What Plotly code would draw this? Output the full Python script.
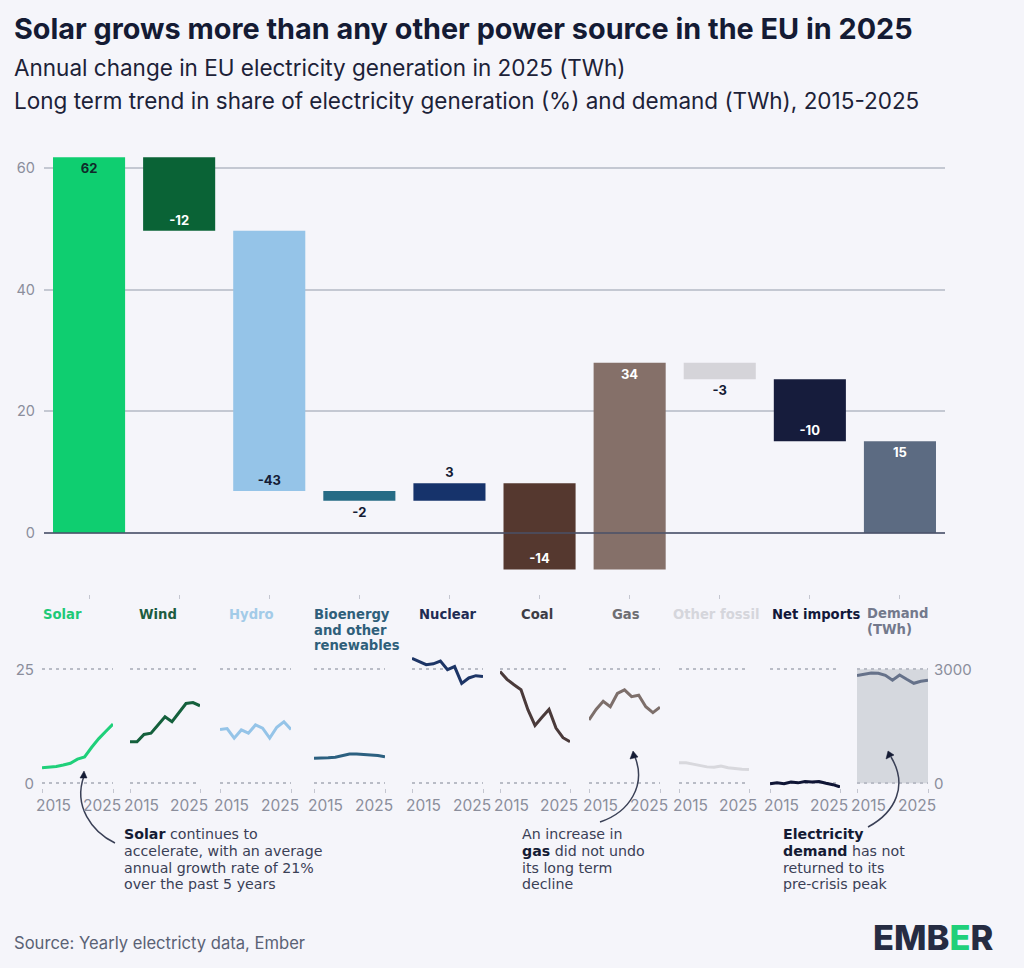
import plotly.graph_objects as go

FW, FH = 1024, 968
FONT = "Inter"
BLOCK_FONT = "DejaVu Sans"
BG = "#f5f5fa"
INK = "#141b34"
TICK = "#8b8e9c"

sources = ["Solar", "Wind", "Hydro", "Bioenergy and other renewables", "Nuclear",
           "Coal", "Gas", "Other fossil", "Net imports", "Demand (TWh)"]
changes = [61.8, -12.1, -42.8, -1.6, 2.9, -14.2, 34.0, -2.7, -10.2, 15.1]
change_labels = ["62", "-12", "-43", "-2", "3", "-14", "34", "-3", "-10", "15"]
label_pos = ["inside", "inside", "inside", "outside", "outside",
             "inside", "inside", "outside", "inside", "inside"]
label_colors = ["#0f2a2a", "#ffffff", "#141b34", "#141b34", "#141b34",
                "#ffffff", "#ffffff", "#141b34", "#ffffff", "#ffffff"]
bar_colors = ["#0fce70", "#0a6336", "#95c4e8", "#266b85", "#16336b",
              "#55382f", "#857069", "#d5d4d9", "#161c3c", "#5c6b82"]
line_colors = ["#1fd07a", "#14603c", "#95c4e8", "#2c6080", "#1d3566",
               "#4a3a3a", "#7d6f6b", "#d8d8dd", "#0f1535", "#66728a"]

years = [2015, 2016, 2017, 2018, 2019, 2020, 2021, 2022, 2023, 2024, 2025]
solar = [3.4, 3.5, 3.7, 4.0, 4.4, 5.3, 5.8, 7.9, 9.8, 11.4, 13.0]
wind = [9.1, 9.1, 10.7, 11.0, 12.8, 14.6, 13.5, 15.4, 17.5, 17.7, 17.0]
hydro = [11.8, 12.0, 9.9, 11.7, 11.0, 12.8, 12.1, 9.9, 12.3, 13.5, 11.8]
bioenergy = [5.5, 5.5, 5.6, 5.7, 6.1, 6.4, 6.4, 6.3, 6.2, 6.1, 5.8]
nuclear = [27.4, 26.7, 26.0, 26.2, 26.8, 24.9, 25.6, 21.9, 23.1, 23.6, 23.4]
coal = [24.5, 22.8, 21.6, 20.5, 16.1, 12.7, 14.5, 16.2, 12.1, 10.0, 9.1]
gas = [13.9, 16.2, 18.0, 16.8, 19.7, 20.5, 19.0, 19.3, 16.8, 15.5, 16.7]
other_fossil = [4.5, 4.5, 4.2, 3.9, 3.6, 3.5, 3.8, 3.4, 3.2, 3.1, 3.0]
net_imports = [-0.1, 0.1, -0.1, 0.3, 0.1, 0.4, 0.3, 0.4, 0.0, -0.3, -0.8]
demand = [2833, 2877, 2904, 2895, 2842, 2711, 2851, 2737, 2632, 2684, 2711]
share_series = [solar, wind, hydro, bioenergy, nuclear, coal, gas, other_fossil, net_imports, demand]

share_ticks = [0, 25]
demand_ticks = [0, 3000]

# pixel position of 2015 and 2025 on each small chart
small_x = [(42, 113), (130, 200), (220, 291), (314, 385), (412, 483),
           (500, 570), (589, 660), (679, 749), (770, 840), (857, 928)]
# header of each small chart: lines, left edge
small_heads = [(["Solar"], 43, "#1ec977"), (["Wind"], 139, "#1d5c40"), (["Hydro"], 229, "#a3cbe8"),
               (["Bioenergy", "and other", "renewables"], 314, "#2f5f7a"), (["Nuclear"], 419, "#1f2c54"),
               (["Coal"], 521, "#3d3d45"), (["Gas"], 612, "#6e6e72"), (["Other fossil"], 673, "#d5d6dc"),
               (["Net imports"], 772, "#12183a"), (["Demand", "(TWh)"], 867, "#73798c")]

strong = "<span style='color:#141b34'><b>{}</b></span>"
notes = [(124, [strong.format("Solar") + " continues to", "accelerate, with an average",
                "annual growth rate of 21%", "over the past 5 years"]),
         (522, ["An increase in", strong.format("gas") + " did not undo", "its long term", "decline"]),
         (783, [strong.format("Electricity"), strong.format("demand") + " has not",
                "returned to its", "pre-crisis peak"])]


def px(x):
    return x / FW


def py(y):
    return 1 - y / FH


def text(s, x, y, size, color=INK, anchor="left", family=FONT, **kw):
    # annotations carry about 2px of padding
    annotations.append(dict(text=s, x=px(x - 2), y=py(y), xref="paper", yref="paper",
                            xanchor=anchor, yanchor="middle", showarrow=False,
                            align=anchor, font=dict(family=family, size=size, color=color)))
    annotations[-1]["font"].update(kw)


def block(lines, x, first_y, step, size, color, **kw):
    # plotly's line height is 1.3 x the annotation font, so the outer size sets
    # the spacing and an inner span sets the glyph size
    body = "<br>".join("<span style='font-size:{}px'>{}</span>".format(size, ln) for ln in lines)
    text(body, x, first_y + step * (len(lines) - 1) / 2, step / 1.3, color, family=BLOCK_FONT, **kw)


def arrow(tail, c1, c2, tip, head):
    shapes.append(dict(type="path", xref="paper", yref="paper", layer="above",
                       line=dict(color="#3a4056", width=1.5),
                       path="M {} {} C {} {} {} {} {} {}".format(
                           px(tail[0]), py(tail[1]), px(c1[0]), py(c1[1]),
                           px(c2[0]), py(c2[1]), px(tip[0]), py(tip[1]))))
    shapes.append(dict(type="path", xref="paper", yref="paper", layer="above",
                       fillcolor="#141b34", line=dict(color="#141b34", width=0.5),
                       path="M {} {} L {} {} L {} {} Z".format(
                           px(head[0][0]), py(head[0][1]), px(head[1][0]), py(head[1][1]),
                           px(head[2][0]), py(head[2][1]))))


annotations = []
shapes = []
fig = go.Figure()

# waterfall bars
bases = []
running = 0
for v in changes[:-1]:
    bases.append(running)
    running += v
bases.append(0)

fig.add_trace(go.Bar(
    x=list(range(len(sources))), y=changes, base=bases, width=0.8,
    marker=dict(color=bar_colors, line_width=0),
    text=change_labels, textposition=label_pos, insidetextanchor="end", textangle=0,
    constraintext="none", cliponaxis=False,
    textfont=dict(family=FONT, size=13, color=label_colors, weight=700),
    showlegend=False, hoverinfo="skip"))

shapes.append(dict(type="line", xref="paper", yref="y", layer="above",
                   x0=px(44), x1=px(945), y0=0, y1=0,
                   line=dict(color="#4a5068", width=1.5)))

layout_axes = dict(
    xaxis=dict(domain=[px(44), px(945)], range=[-0.5, 9.5], tickvals=list(range(10)),
               showticklabels=False, ticks="outside", ticklen=4, tickcolor="#c4c6d0",
               showgrid=False, zeroline=False, showline=False, fixedrange=True),
    yaxis=dict(domain=[py(593.8), py(157)], range=[-10, 61.84], tickvals=[0, 20, 40, 60],
               gridcolor="#c4c8d2", gridwidth=1.5, zeroline=False, showline=False,
               ticks="", ticklabelstandoff=8, fixedrange=True,
               tickfont=dict(family=FONT, size=14.5, color=TICK)),
)

# small multiples
for i, series in enumerate(share_series):
    n = i + 2
    is_demand = i == len(share_series) - 1
    x_left, x_right = small_x[i]
    fig.add_trace(go.Scatter(
        x=years, y=series, mode="lines", xaxis=f"x{n}", yaxis=f"y{n}",
        line=dict(color=line_colors[i], width=3), cliponaxis=False,
        showlegend=False, hoverinfo="skip"))
    layout_axes[f"xaxis{n}"] = dict(
        domain=[px(x_left), px(x_right)], range=[years[0], years[-1]], anchor=f"y{n}",
        tickvals=[years[0], years[-1]], showticklabels=False, ticks="outside", ticklen=4,
        tickcolor="#c4c6d0", showgrid=False, zeroline=False, showline=False, fixedrange=True)
    scale = demand_ticks[1] / share_ticks[1] if is_demand else 1
    layout_axes[f"yaxis{n}"] = dict(
        domain=[py(788), py(655.6)], range=[-1.03 * scale, 28 * scale], anchor=f"x{n}",
        tickvals=demand_ticks if is_demand else share_ticks,
        side="right" if is_demand else "left",
        showticklabels=is_demand or i == 0, ticks="", ticklabelstandoff=5 if is_demand else 7,
        tickfont=dict(family=FONT, size=15, color=TICK),
        showgrid=True, gridcolor="#b9bcc6", gridwidth=1.5, griddash="3px,4px",
        zeroline=False, showline=False, fixedrange=True)
    # year labels sit inwards of their ticks
    for yr, anchor, shift in [(years[0], "left", -8), (years[-1], "right", 10)]:
        annotations.append(dict(text=str(yr), x=yr, y=py(805), xref=f"x{n}", yref="paper",
                                xanchor=anchor, yanchor="middle", xshift=shift, showarrow=False,
                                font=dict(family=FONT, size=15.5, color=TICK)))
    lines, head_x, head_color = small_heads[i]
    block(lines, head_x, 614, 15.5, 13.2, head_color, weight=700)

shapes.append(dict(type="rect", xref="x11", yref="y11", layer="below",
                   x0=years[0], x1=years[-1], y0=demand_ticks[0], y1=demand_ticks[1],
                   fillcolor="#d5d8de", line_width=0))

# header, notes, footer
text("Solar grows more than any other power source in the EU in 2025", 14, 28, 28.8, INK, weight=700)
text("Annual change in EU electricity generation in 2025 (TWh)", 14, 67, 22.5, "#1c2238")
text("Long term trend in share of electricity generation (%) and demand (TWh), 2015-2025",
     14, 101, 22.5, "#1c2238")
for x, rows in notes:
    block(rows, x, 834, 16.8, 14.2, "#3a4056")
text("Source: Yearly electricty data, Ember", 14, 943, 16.6, "#5a6275")
text("EMB<span style='color:#1fd07a'>E</span>R", 873, 937, 34.5, "#262c42", weight=800)

arrow((115, 843), (92, 832), (73, 806), (84, 776), [(84, 771), (80, 778), (87, 778)])
arrow((600, 822), (630, 812), (646, 785), (635, 757), [(633, 751), (630, 759), (638, 757)])
arrow((868, 827), (896, 812), (908, 785), (891, 757), [(888, 751), (886, 759), (894, 755)])

fig.update_layout(
    width=FW, height=FH, margin=dict(l=0, r=0, t=0, b=0, autoexpand=False),
    paper_bgcolor=BG, plot_bgcolor=BG, font=dict(family=FONT, color=INK),
    showlegend=False, annotations=annotations, shapes=shapes, bargap=0.2, **layout_axes)

fig.write_html("out.html", config={"displayModeBar": False},
               post_script="document.body.style.margin='0';")
print("done")
